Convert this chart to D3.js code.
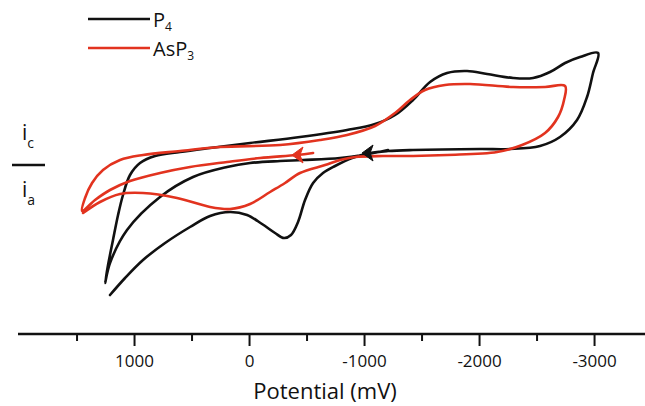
<!DOCTYPE html>
<html>
<head>
<meta charset="utf-8">
<script src="https://cdn.jsdelivr.net/npm/d3@7"></script>
<style>
body { margin:0; background:#fff; }
svg text { font-family:"Open Sans", "Noto Sans", sans-serif; fill:#111; }
.curve { fill:none; stroke-width:2.6; stroke-linejoin:round; stroke-linecap:round; }
</style>
</head>
<body>
<div id="chart"></div>
<script>
// potential (mV) and current (arbitrary units)
var p4Potential = [-1209,-991,-791,-470,-270,-9,191,487,774,1061,1209,1252,
	1226,1183,1139,1096,1035,948,817,600,339,-9,-443,-852,-1096,-1270,-1426,-1574,-1722,-1896,-2070,-2296,-2470,-2617,-2748,-2878,-3035,
	-2991,-2939,-2852,-2704,-2530,-2270,-2009,-1426,-1209,-1052,-896,-748,-643,-557,-487,-426,-365,-304,-226,-113,17,165,339,513,730,922,1078,1209]
var p4Current   = [5.0,4.5,4.2,4.0,3.9,3.7,3.3,2.3,0.3,-3.0,-6.3,-8.3,
	-6.5,-4.0,-1.5,0.5,2.5,3.7,4.4,4.8,5.2,5.7,6.3,7.0,7.6,8.5,10.0,11.8,12.7,12.9,12.6,12.2,12.2,12.8,13.7,14.3,14.7,
	12.7,10.3,8.0,6.3,5.4,5.1,5.1,5.0,4.9,4.7,4.2,3.4,2.7,1.7,0.0,-2.2,-3.5,-3.8,-3.3,-2.4,-1.5,-1.2,-1.6,-2.7,-4.3,-6.0,-7.8,-9.5]

var asp3Potential = [-557,-417,-96,191,513,774,1035,1209,1339,1452,
	1426,1365,1270,1122,922,600,252,-270,-617,-852,-1096,-1270,-1400,-1530,-1704,-1922,-2296,-2574,-2748,
	-2739,-2687,-2574,-2374,-2157,-1722,-1426,-1165,-922,-791,-661,-443,-313,-183,-9,165,339,626,922,1122,1296,1443]
var asp3Current   = [4.7,4.5,4.2,3.8,3.3,2.7,1.9,1.0,0.0,-1.1,
	0.2,1.7,3.0,4.0,4.5,4.9,5.3,5.5,6.0,6.5,7.4,8.7,10.0,11.0,11.5,11.6,11.3,11.3,11.4,
	10.0,8.3,6.7,5.5,4.8,4.5,4.4,4.4,4.3,4.0,3.5,2.7,1.7,0.8,-0.4,-0.9,-0.7,0.2,0.7,0.6,-0.2,-1.3]

var arrowPotential = [-1026, -417]
var arrowCurrent   = [4.7, 4.5]

var seriesNames  = ['P', 'AsP']
var seriesSubs   = ['4', '3']
var seriesColors = ['#111111', '#e2331f']

var majorTicks = [1000, 0, -1000, -2000, -3000]
var minorTicks = [1500, 500, -500, -1500, -2500]

var width = 645, height = 406

var x = d3.scaleLinear().domain([2009, -3443]).range([18, 645])
var y = d3.scaleLinear().domain([-15, 20]).range([350, 0])

var svg = d3.select('#chart').append('svg')
	.attr('width', width).attr('height', height)

var line = d3.line()
	.x(function(d){ return x(d[0]) })
	.y(function(d){ return y(d[1]) })
	.curve(d3.curveCatmullRom.alpha(0.5))

var p4 = d3.zip(p4Potential, p4Current)
var asp3 = d3.zip(asp3Potential, asp3Current)

svg.append('path').data([p4]).attr('class','curve')
	.style('stroke', seriesColors[0]).attr('d', line)
svg.append('path').data([asp3]).attr('class','curve')
	.style('stroke', seriesColors[1]).attr('d', line)

// direction arrows, pointing to positive potential
arrowPotential.forEach(function(e,i){
	var ax = x(e), ay = y(arrowCurrent[i])
	svg.append('path')
		.attr('d','M '+(ax-5)+' '+ay+' L '+(ax+6)+' '+(ay-8)+' L '+(ax+3)+' '+ay+' L '+(ax+6)+' '+(ay+8)+' Z')
		.style('fill', seriesColors[i]).style('stroke', seriesColors[i]).style('stroke-width',1)
})

// x axis
var axisY = 334
var gMinor = svg.append('g').attr('transform','translate(0,'+axisY+')')
	.call(d3.axisBottom(x).tickValues(minorTicks).tickSize(7).tickFormat(''))
gMinor.select('.domain').remove()
gMinor.selectAll('line').style('stroke','#111').style('stroke-width',2)

var gMajor = svg.append('g').attr('transform','translate(0,'+axisY+')')
	.call(d3.axisBottom(x).tickValues(majorTicks).tickSize(12).tickPadding(9)
		.tickFormat(function(d){ return String(d) }))
gMajor.select('.domain').attr('d','M 18 0 H 645').style('stroke','#111').style('stroke-width',2.6)
gMajor.selectAll('line').style('stroke','#111').style('stroke-width',2)
gMajor.selectAll('text').style('font-size','17px').style('fill','#111')
	.style('font-family','"Open Sans", sans-serif')

svg.append('text').attr('x', 325).attr('y', 399)
	.attr('text-anchor','middle').style('font-size','22px')
	.text('Potential (mV)')

// y label: i_c over i_a
var yl = svg.append('g')
var tc = yl.append('text').attr('x', 22).attr('y', 140).style('font-size','21px')
tc.append('tspan').text('i')
tc.append('tspan').attr('dy', 8).style('font-size','14px').text('c')
yl.append('line').attr('x1', 12).attr('x2', 45).attr('y1', 165).attr('y2', 165)
	.style('stroke','#111').style('stroke-width',2.4)
var ta = yl.append('text').attr('x', 22).attr('y', 197).style('font-size','21px')
ta.append('tspan').text('i')
ta.append('tspan').attr('dy', 8).style('font-size','14px').text('a')

// legend
var legend = svg.append('g')
seriesNames.forEach(function(e,i){
	var ly = 19 + i*29
	legend.append('line').attr('x1', 88).attr('x2', 150).attr('y1', ly).attr('y2', ly)
		.style('stroke', seriesColors[i]).style('stroke-width', 2.6)
	var t = legend.append('text').attr('x', 153).attr('y', ly + 8).style('font-size','20px')
	t.append('tspan').text(e)
	t.append('tspan').attr('dy', 4).style('font-size','12px').text(seriesSubs[i])
})
</script>
</body>
</html>
